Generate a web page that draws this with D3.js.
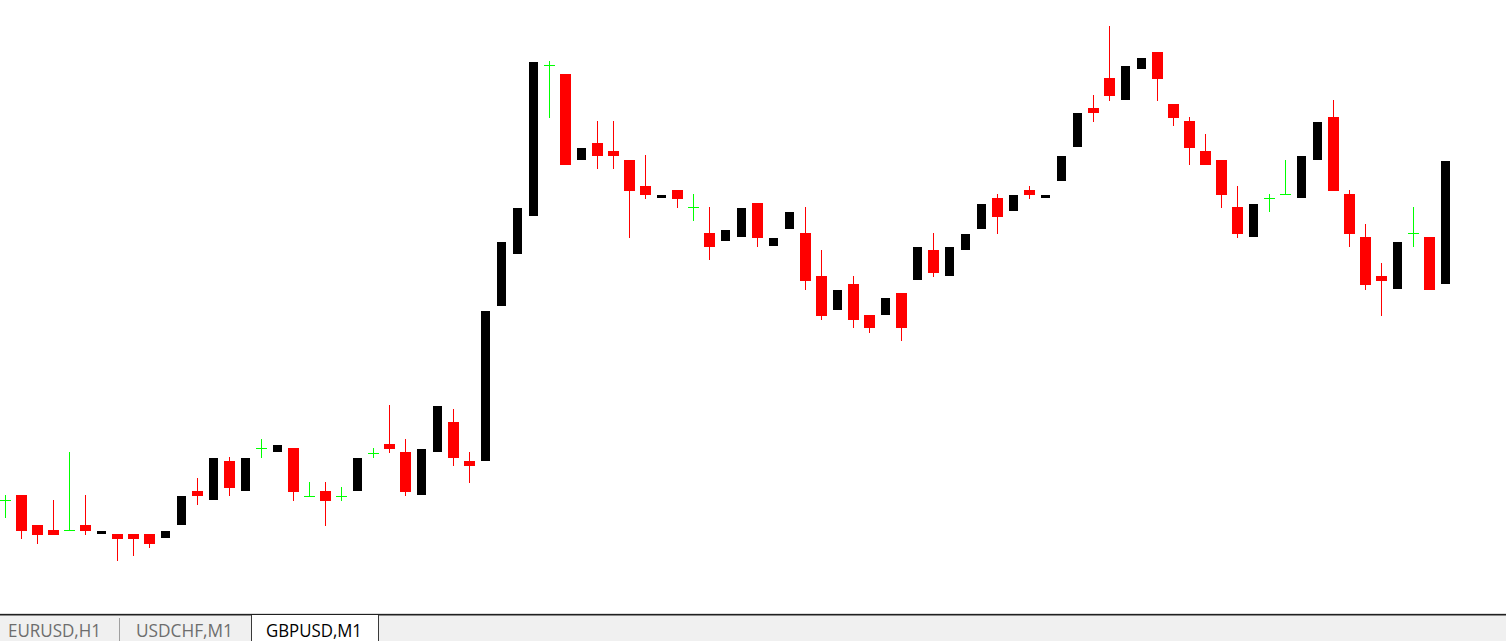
<!DOCTYPE html>
<html>
<head>
<meta charset="utf-8">
<script src="https://cdn.jsdelivr.net/npm/d3@7"></script>
<style>
  html, body { margin: 0; padding: 0; background: #ffffff; overflow: hidden; }
  svg { display: block; }
</style>
</head>
<body>
<div id="chart"></div>
<script>
// GBPUSD, M1 candles (price values)
const opens = [1.26800,1.26805,1.26775,1.26770,1.26770,1.26775,1.26766,1.26766,1.26766,1.26766,
  1.26762,1.26775,1.26809,1.26800,1.26839,1.26809,1.26852,1.26848,1.26852,1.26804,
  1.26809,1.26804,1.26809,1.26847,1.26856,1.26848,1.26805,1.26848,1.26878,1.26839,
  1.26839,1.26994,1.27046,1.27084,1.27235,1.27226,1.27140,1.27157,1.27149,1.27140,
  1.27114,1.27102,1.27110,1.27093,1.27067,1.27059,1.27063,1.27097,1.27054,1.27071,
  1.27067,1.27024,1.26990,1.27016,1.26985,1.26985,1.27007,1.27020,1.27050,1.27024,
  1.27050,1.27071,1.27102,1.27089,1.27110,1.27102,1.27119,1.27153,1.27192,1.27222,
  1.27200,1.27231,1.27248,1.27196,1.27179,1.27149,1.27140,1.27093,1.27063,1.27102,
  1.27106,1.27102,1.27140,1.27183,1.27106,1.27063,1.27024,1.27011,1.27067,1.27063,
  1.27016];
const highs = [1.26805,1.26805,1.26775,1.26800,1.26848,1.26805,1.26769,1.26766,1.26766,1.26766,
  1.26769,1.26804,1.26822,1.26842,1.26843,1.26842,1.26861,1.26855,1.26852,1.26818,
  1.26818,1.26813,1.26842,1.26852,1.26895,1.26861,1.26851,1.26894,1.26891,1.26848,
  1.26989,1.27058,1.27092,1.27238,1.27239,1.27226,1.27152,1.27179,1.27179,1.27140,
  1.27145,1.27105,1.27110,1.27106,1.27093,1.27070,1.27092,1.27097,1.27062,1.27088,
  1.27093,1.27050,1.27010,1.27024,1.26985,1.27002,1.27007,1.27053,1.27067,1.27053,
  1.27066,1.27096,1.27106,1.27105,1.27114,1.27105,1.27144,1.27187,1.27205,1.27274,
  1.27234,1.27242,1.27248,1.27196,1.27183,1.27166,1.27140,1.27114,1.27096,1.27106,
  1.27140,1.27144,1.27178,1.27200,1.27110,1.27076,1.27037,1.27058,1.27093,1.27063,
  1.27139];
const lows = [1.26782,1.26761,1.26756,1.26765,1.26770,1.26765,1.26766,1.26739,1.26744,1.26752,
  1.26762,1.26775,1.26795,1.26800,1.26804,1.26809,1.26842,1.26848,1.26799,1.26804,
  1.26774,1.26799,1.26809,1.26842,1.26847,1.26804,1.26805,1.26848,1.26834,1.26817,
  1.26839,1.26994,1.27046,1.27084,1.27182,1.27135,1.27140,1.27131,1.27131,1.27062,
  1.27101,1.27102,1.27092,1.27079,1.27040,1.27059,1.27063,1.27053,1.27054,1.27071,
  1.27010,1.26980,1.26990,1.26972,1.26967,1.26985,1.26959,1.27020,1.27023,1.27024,
  1.27050,1.27071,1.27066,1.27089,1.27101,1.27102,1.27119,1.27153,1.27178,1.27199,
  1.27200,1.27231,1.27199,1.27174,1.27135,1.27135,1.27092,1.27062,1.27063,1.27088,
  1.27106,1.27102,1.27140,1.27109,1.27053,1.27010,1.26984,1.27011,1.27053,1.27010,
  1.27016];
const closes = [1.26800,1.26769,1.26765,1.26765,1.26770,1.26769,1.26769,1.26761,1.26761,1.26756,
  1.26769,1.26804,1.26804,1.26842,1.26812,1.26842,1.26852,1.26855,1.26808,1.26804,
  1.26799,1.26804,1.26842,1.26847,1.26851,1.26808,1.26851,1.26894,1.26842,1.26834,
  1.26989,1.27058,1.27092,1.27238,1.27235,1.27135,1.27152,1.27144,1.27144,1.27109,
  1.27105,1.27105,1.27101,1.27093,1.27053,1.27070,1.27092,1.27062,1.27062,1.27088,
  1.27019,1.26984,1.27010,1.26980,1.26972,1.27002,1.26972,1.27053,1.27027,1.27053,
  1.27066,1.27096,1.27083,1.27105,1.27105,1.27105,1.27144,1.27187,1.27187,1.27204,
  1.27234,1.27242,1.27221,1.27182,1.27152,1.27135,1.27105,1.27066,1.27096,1.27102,
  1.27106,1.27144,1.27178,1.27109,1.27066,1.27015,1.27019,1.27058,1.27067,1.27010,
  1.27139];

const tabLabels = ["EURUSD,H1", "USDCHF,M1", "GBPUSD,M1"];
const activeTab = 2;

const W = 1506, H = 641;
const svg = d3.select("#chart").append("svg")
  .attr("width", W).attr("height", H)
  .attr("shape-rendering", "crispEdges");

svg.append("rect").attr("width", W).attr("height", H).attr("fill", "#ffffff");

const candles = opens.map((o, i) => ({ i, o, h: highs[i], l: lows[i], c: closes[i] }));

const x = d3.scaleLinear().domain([0, candles.length - 1]).range([5.5, 5.5 + 16 * (candles.length - 1)]);
const y = d3.scaleLinear().domain([1.27300, 1.26659]).range([0, 641]);
const py = v => Math.round(y(v));

const g = svg.append("g");

const kind = d => Math.abs(d.o - d.c) < 1e-9 ? "doji" : (d.c < d.o ? "bear" : "bull");

// wicks (bear red, doji green; bull wicks drawn in background colour)
g.selectAll("rect.wick").data(candles.filter(d => kind(d) !== "bull")).join("rect")
  .attr("class", "wick")
  .attr("x", d => x(d.i) - 0.5)
  .attr("width", 1)
  .attr("y", d => py(d.h))
  .attr("height", d => Math.max(1, py(d.l) - py(d.h)))
  .attr("fill", d => kind(d) === "doji" ? "#00ff00" : "#ff0000");

// doji horizontal ticks
g.selectAll("rect.dojiTick").data(candles.filter(d => kind(d) === "doji")).join("rect")
  .attr("class", "dojiTick")
  .attr("x", d => x(d.i) - 5.5)
  .attr("width", 11)
  .attr("y", d => py(d.o))
  .attr("height", 1)
  .attr("fill", "#00ff00");

// bear bodies
g.selectAll("rect.bear").data(candles.filter(d => kind(d) === "bear")).join("rect")
  .attr("class", "bear")
  .attr("x", d => x(d.i) - 5.5)
  .attr("width", 11)
  .attr("y", d => py(d.o))
  .attr("height", d => Math.max(1, py(d.c) - py(d.o)))
  .attr("fill", "#ff0000");

// bull bodies
g.selectAll("rect.bull").data(candles.filter(d => kind(d) === "bull")).join("rect")
  .attr("class", "bull")
  .attr("x", d => x(d.i) - 4.5)
  .attr("width", 9)
  .attr("y", d => py(d.c))
  .attr("height", d => Math.max(1, py(d.o) - py(d.c)))
  .attr("fill", "#000000");

// tab bar
const tabs = svg.append("g");
tabs.append("rect").attr("x", 0).attr("y", 613).attr("width", W).attr("height", 1).attr("fill", "#dcdcdc");
tabs.append("rect").attr("x", 0).attr("y", 614).attr("width", W).attr("height", 27).attr("fill", "#f0f0f0");
tabs.append("rect").attr("x", 0).attr("y", 614).attr("width", W).attr("height", 1).attr("fill", "#202020");
tabs.append("rect").attr("x", 0).attr("y", 615).attr("width", W).attr("height", 1).attr("fill", "#8a8a8a");

const tabEdges = [0, 119, 251, 378];
const tabTextX = [8, 136, 266];
const tabTextW = [93, 97, 96];

// active tab
tabs.append("rect").attr("x", tabEdges[activeTab]).attr("y", 615)
  .attr("width", tabEdges[activeTab + 1] - tabEdges[activeTab]).attr("height", 26)
  .attr("fill", "#ffffff");
tabs.append("rect").attr("x", tabEdges[activeTab]).attr("y", 615).attr("width", 1).attr("height", 26).attr("fill", "#3a3a3a");
tabs.append("rect").attr("x", tabEdges[activeTab + 1]).attr("y", 615).attr("width", 1).attr("height", 26).attr("fill", "#3a3a3a");
// separator between inactive tabs
tabs.append("rect").attr("x", 119).attr("y", 618).attr("width", 1).attr("height", 23).attr("fill", "#a0a0a0");

tabs.selectAll("text").data(tabLabels).join("text")
  .attr("x", (d, i) => tabTextX[i])
  .attr("y", 637)
  .attr("textLength", (d, i) => tabTextW[i])
  .attr("lengthAdjust", "spacingAndGlyphs")
  .attr("font-family", "'Open Sans', 'Noto Sans', sans-serif")
  .attr("font-size", 18)
  .attr("fill", (d, i) => i === activeTab ? "#000000" : "#6d6d6d")
  .attr("shape-rendering", "auto")
  .text(d => d);
</script>
</body>
</html>
